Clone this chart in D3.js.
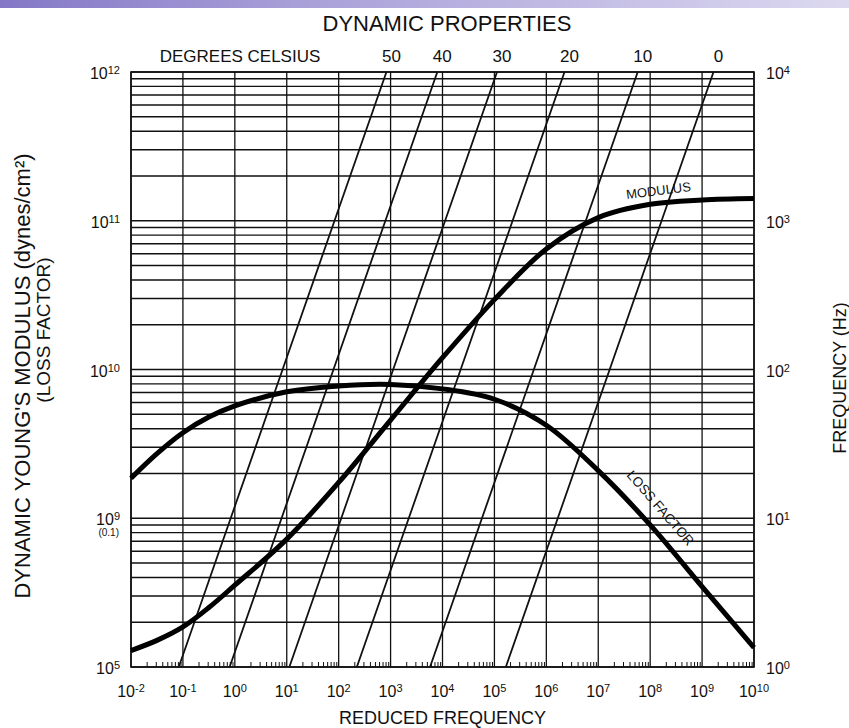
<!DOCTYPE html>
<html>
<head>
<meta charset="utf-8">
<script src="https://cdn.jsdelivr.net/npm/d3@7"></script>
<style>
  body { margin: 0; background: #fff; }
  svg text { font-family: "Liberation Sans", Arial, sans-serif; fill: #111; }
</style>
</head>
<body>
<div id="chart"></div>
<script>
let margin = {top: 72, right: 95, bottom: 61, left: 131}
let W = 849, H = 728
let width = W - margin.left - margin.right,
    height = H - margin.top - margin.bottom

// reduced frequency (Hz), log10
let redFreq    = [-2, -1.5, -1, -0.5, 0, 1, 2, 3, 4, 5, 6, 7, 8, 9, 10]
// modulus, dynes/cm2
let modulus    = [1.29e8, 1.51e8, 1.86e8, 2.51e8, 3.55e8, 7.24e8, 1.74e9, 4.57e9, 1.2e10, 2.95e10, 6.46e10, 1.05e11, 1.29e11, 1.38e11, 1.41e11]
// loss factor (1e10 on left axis = 1.0)
let lossFactor = [0.186, 0.272, 0.376, 0.479, 0.569, 0.708, 0.776, 0.794, 0.741, 0.631, 0.422, 0.209, 0.0902, 0.0347, 0.0135]

// isotherms: temperature and log10 shift factor
let temps    = [50, 40, 30, 20, 10, 0]
let logShift = [-1.08, -0.1, 1.05, 2.35, 3.76, 5.22]

let xDecades = d3.range(-2, 11)
let yTicks   = [1e8, 1e9, 1e10, 1e11, 1e12]
let yExp     = ["5", "9", "10", "11", "12"]
let fTicks   = [1, 10, 100, 1000, 10000]
let fExp     = ["0", "1", "2", "3", "4"]

let svg = d3.select("#chart").append("svg")
    .attr("width", W).attr("height", H)

// strip of the slide above the chart
let grad = svg.append("defs").append("linearGradient").attr("id", "strip")
grad.append("stop").attr("offset", "0%").attr("stop-color", "#8478c6")
grad.append("stop").attr("offset", "35%").attr("stop-color", "#a89fd8")
grad.append("stop").attr("offset", "100%").attr("stop-color", "#dcd9f0")
svg.append("rect").attr("width", W).attr("height", 8).attr("fill", "url(#strip)")

let g = svg.append("g")
    .attr("transform", "translate(" + margin.left + "," + margin.top + ")")

let xS = d3.scaleLog().domain([1e-2, 1e10]).range([0, width])
let yS = d3.scaleLog().domain([1e8, 1e12]).range([height, 0])
let fS = d3.scaleLog().domain([1, 1e4]).range([height, 0])

// horizontal log grid
let hLines = []
for (let d = 8; d < 12; d++)
    for (let m = 1; m < 10; m++) hLines.push(m * Math.pow(10, d))
hLines.push(1e12)
g.selectAll(".hg").data(hLines).enter().append("line")
    .attr("x1", 0).attr("x2", width)
    .attr("y1", d => yS(d)).attr("y2", d => yS(d))
    .attr("stroke", "#111").attr("stroke-width", 1.4)

// vertical decade grid
g.selectAll(".vg").data(xDecades).enter().append("line")
    .attr("x1", d => xS(Math.pow(10, d))).attr("x2", d => xS(Math.pow(10, d)))
    .attr("y1", 0).attr("y2", height)
    .attr("stroke", "#111").attr("stroke-width", 1.3)

// minor ticks along bottom
let minor = []
xDecades.slice(0, -1).forEach(d => { for (let m = 2; m < 10; m++) minor.push(m * Math.pow(10, d)) })
g.append("g")
    .attr("transform", "translate(0," + height + ")")
    .call(d3.axisBottom(xS).tickValues(minor).tickSize(-5).tickFormat(""))
    .call(a => a.select(".domain").remove())
    .selectAll("line").attr("stroke", "#111").attr("stroke-width", 1)

// frame
g.append("rect").attr("width", width).attr("height", height)
    .attr("fill", "none").attr("stroke", "#111").attr("stroke-width", 1.6)

// isotherms
let iso = temps.map((t, i) => fTicks.map(f => [f * Math.pow(10, logShift[i]), f]))
g.selectAll(".iso").data(iso).enter().append("path")
    .attr("d", d3.line().x(d => xS(d[0])).y(d => fS(d[1])))
    .attr("fill", "none").attr("stroke", "#111").attr("stroke-width", 1.8)

g.selectAll(".tl").data(temps).enter().append("text")
    .attr("x", (d, i) => xS(1e4 * Math.pow(10, logShift[i])) + 5)
    .attr("y", -10)
    .attr("text-anchor", "middle")
    .style("font-size", "17px")
    .text(d => d)

// curves
let line = d3.line().curve(d3.curveCatmullRom.alpha(0.5))
g.append("path")
    .attr("d", line(redFreq.map((r, i) => [xS(Math.pow(10, r)), yS(modulus[i])])))
    .attr("fill", "none").attr("stroke", "#000").attr("stroke-width", 5)
g.append("path")
    .attr("d", line(redFreq.map((r, i) => [xS(Math.pow(10, r)), yS(lossFactor[i] * 1e10)])))
    .attr("fill", "none").attr("stroke", "#000").attr("stroke-width", 5)

g.append("text").attr("transform", "translate(528,123) rotate(-7)")
    .attr("text-anchor", "middle").style("font-size", "13px").text("MODULUS")
g.append("text").attr("transform", "translate(526,439) rotate(49)")
    .attr("text-anchor", "middle").style("font-size", "13.5px").text("LOSS FACTOR")

// superscript labels
function sup(sel, base, exp, size) {
    sel.append("tspan").text(base)
    sel.append("tspan").attr("dy", "-0.45em").style("font-size", size).text(exp)
}

// left ticks
yTicks.forEach((v, i) => {
    let t = g.append("text").attr("x", -11).attr("y", yS(v) + 7)
        .attr("text-anchor", "end").style("font-size", "16px")
    sup(t, "10", yExp[i], "11px")
})
g.append("text").attr("x", -12).attr("y", yS(1e9) + 18)
    .attr("text-anchor", "end").style("font-size", "10px").text("(0.1)")

// right ticks
fTicks.forEach((v, i) => {
    let t = g.append("text").attr("x", width + 12).attr("y", fS(v) + 7)
        .style("font-size", "16px")
    sup(t, "10", fExp[i], "11px")
})

// bottom ticks
xDecades.forEach(d => {
    let t = g.append("text").attr("x", xS(Math.pow(10, d))).attr("y", height + 30)
        .attr("text-anchor", "middle").style("font-size", "16px")
    sup(t, "10", d < 0 ? "-" + (-d) : "" + d, "11px")
})

// titles
svg.append("text").attr("x", 447).attr("y", 31).attr("text-anchor", "middle")
    .style("font-size", "22px").text("DYNAMIC PROPERTIES")
svg.append("text").attr("x", 240).attr("y", 62).attr("text-anchor", "middle")
    .style("font-size", "17px").text("DEGREES CELSIUS")
svg.append("text").attr("x", margin.left + width / 2).attr("y", 724).attr("text-anchor", "middle")
    .style("font-size", "18px").text("REDUCED FREQUENCY")
svg.append("text").attr("transform", "translate(30,376) rotate(-90)").attr("text-anchor", "middle")
    .style("font-size", "22px").text("DYNAMIC YOUNG'S MODULUS (dynes/cm²)")
svg.append("text").attr("transform", "translate(50,330) rotate(-90)").attr("text-anchor", "middle")
    .style("font-size", "19px").text("(LOSS FACTOR)")
svg.append("text").attr("transform", "translate(846,378) rotate(-90)").attr("text-anchor", "middle")
    .style("font-size", "18px").text("FREQUENCY (Hz)")
</script>
</body>
</html>
